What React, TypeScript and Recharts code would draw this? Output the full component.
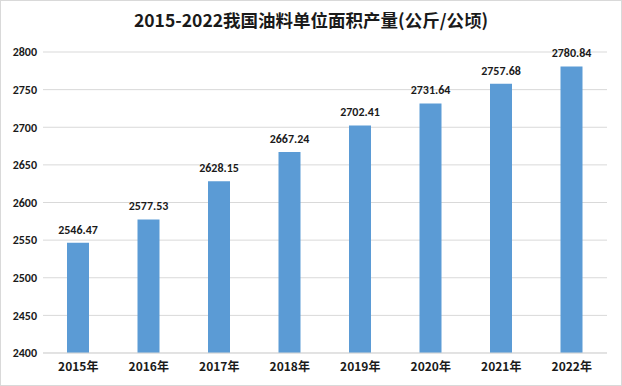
import React from 'react';
import { BarChart, Bar, XAxis, YAxis, CartesianGrid, LabelList } from 'recharts';

const categories = ['2015年', '2016年', '2017年', '2018年', '2019年', '2020年', '2021年', '2022年'];
const yields = [2546.47, 2577.53, 2628.15, 2667.24, 2702.41, 2731.64, 2757.68, 2780.84];
const yTicks = [2400, 2450, 2500, 2550, 2600, 2650, 2700, 2750, 2800];
const title = '2015-2022我国油料单位面积产量(公斤/公顷)';

const data = categories.map((c, i) => ({ name: c, value: yields[i] }));

const font = 'Calibri, Carlito, "Liberation Sans", "Noto Sans CJK SC", sans-serif';

export default function App() {
  return (
    <div style={{ position: 'fixed', left: 0, top: 0, width: 622, height: 386, background: '#fff' }}>
      <div
        style={{
          position: 'absolute',
          left: 0,
          top: 0,
          width: 620,
          height: 384,
          border: '1px solid #d9d9d9',
        }}
      />
      <div
        style={{
          position: 'absolute',
          left: 0,
          top: 7,
          width: 622,
          textAlign: 'center',
          fontFamily: '"Noto Sans CJK SC", sans-serif',
          fontWeight: 700,
          fontSize: 17.5,
          color: '#1a1a1a',
          lineHeight: '26px',
        }}
      >
        {title}
      </div>
      <div style={{ position: 'absolute', left: 0, top: 0 }}>
        <BarChart
          width={622}
          height={386}
          data={data}
          margin={{ top: 52, right: 15, bottom: 3, left: 0 }}
        >
          <CartesianGrid vertical={false} stroke="#d9d9d9" strokeWidth={1} />
          <XAxis
            dataKey="name"
            height={30}
            tickLine={false}
            axisLine={{ stroke: '#d9d9d9' }}
            tickSize={0}
            tickMargin={9}
            interval={0}
            tick={{ fill: '#1a1a1a', fontSize: 12, fontWeight: 700, fontFamily: '"Noto Sans CJK SC", sans-serif' }}
          />
          <YAxis
            domain={[2400, 2800]}
            ticks={yTicks}
            width={43}
            tickLine={false}
            axisLine={false}
            tickSize={0}
            tickMargin={6}
            interval={0}
            tick={{ fill: '#1a1a1a', fontSize: 12, fontWeight: 700, fontFamily: font }}
          />
          <Bar dataKey="value" fill="#5B9BD5" barSize={22} isAnimationActive={false}>
            <LabelList
              dataKey="value"
              position="top"
              offset={9}
              formatter={(v: number) => v.toFixed(2)}
              style={{ fill: '#1a1a1a', fontSize: 12, fontWeight: 700, fontFamily: font }}
            />
          </Bar>
        </BarChart>
      </div>
    </div>
  );
}
